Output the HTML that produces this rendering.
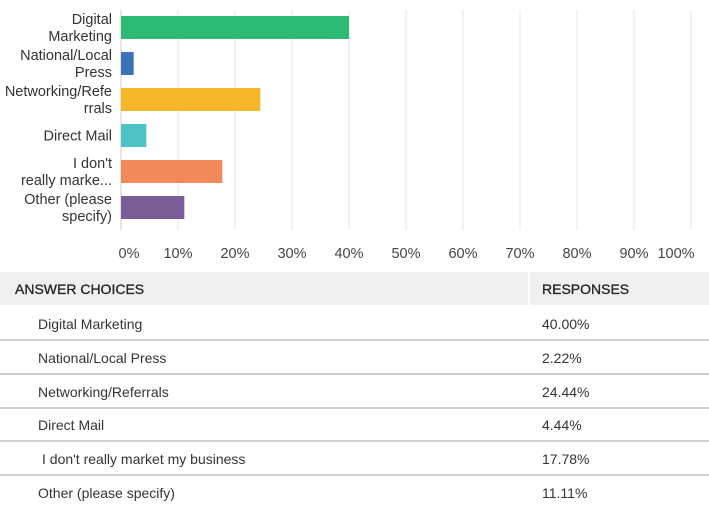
<!DOCTYPE html>
<html><head><meta charset="utf-8"><style>
body{margin:0;width:709px;height:507px;background:#fff;font-family:"Liberation Sans",sans-serif;color:#333;overflow:hidden;position:relative}
.t{position:absolute;font-size:14px}
</style></head><body>
<svg id="chart" width="709" height="270" style="position:absolute;left:0;top:0"></svg>
<div style="position:absolute;left:0;top:272px;width:709px;height:33px;background:#efefef"></div>
<div style="position:absolute;left:528px;top:272px;width:2px;height:33px;background:#fff"></div>
<div class="t" style="left:15px;top:281px;font-size:14px;color:#222;-webkit-text-stroke:0.3px #222">ANSWER CHOICES</div>
<div class="t" style="left:542px;top:281px;font-size:14px;color:#222;-webkit-text-stroke:0.3px #222">RESPONSES</div>
<div id="rows"></div>
<script>
const categories=["Digital Marketing","National/Local Press","Networking/Referrals","Direct Mail","I don't really market my business","Other (please specify)"];
const shortLabels=[["Digital","Marketing"],["National/Local","Press"],["Networking/Refe","rrals"],["Direct Mail"],["I don't ","really marke..."],["Other (please","specify)"]];
const values=[40.00,2.22,24.44,4.44,17.78,11.11];
const colors=["#2dba74","#3b73b9","#f6b82a","#4ec3c6","#f2895a","#7a5c98"];
const ticks=[0,10,20,30,40,50,60,70,80,90,100];
const ns="http://www.w3.org/2000/svg";
const svg=document.getElementById('chart');
const x=v=>121+v*5.7;
const y=i=>16+i*36;
ticks.forEach(t=>{
 const l=document.createElementNS(ns,'line');
 
 
 l.setAttribute('x1',x(t));l.setAttribute('x2',x(t));l.setAttribute('y1',10);l.setAttribute('y2',230);
 l.setAttribute('stroke',t===0?'#ccc':'#e6e6e6');l.setAttribute('stroke-width',1);
 svg.appendChild(l);
 const tx=document.createElementNS(ns,'text');
 
 
 tx.setAttribute('x',t===100?x(t)-15:x(t)+(t===0?8:0));tx.setAttribute('y',258);tx.setAttribute('text-anchor','middle');
 tx.setAttribute('font-size','14.5');tx.setAttribute('fill','#444');
 tx.textContent=t+'%';svg.appendChild(tx);
});
values.forEach((v,i)=>{
 const r=document.createElementNS(ns,'rect');
 
 
 r.setAttribute('x',x(0));r.setAttribute('y',y(i));r.setAttribute('width',x(v)-x(0));r.setAttribute('height',23);
 r.setAttribute('fill',colors[i]);svg.appendChild(r);
 const lines=shortLabels[i];
 lines.forEach((s,k)=>{
  const tx=document.createElementNS(ns,'text');
  
  
  const cy=y(i)+11.5+(k-(lines.length-1)/2)*17+5;
  tx.setAttribute('x',112);tx.setAttribute('y',cy);tx.setAttribute('text-anchor','end');
  tx.setAttribute('font-size','14.5');tx.setAttribute('fill','#333');
  tx.textContent=s;svg.appendChild(tx);
 });
});
const rows=document.getElementById('rows');
categories.forEach((c,i)=>{
 const top=306+i*33.8;
 const a=document.createElement('div');
 
 
 a.className='t';a.style.left=(i===4?42:38)+'px';a.style.top=(top+10)+'px';a.textContent=c;rows.appendChild(a);
 const b=document.createElement('div');
 
 
 b.className='t';b.style.left='542px';b.style.top=(top+10)+'px';b.textContent=values[i].toFixed(2)+'%';rows.appendChild(b);
 if(i<5){
  const ln=document.createElement('div');
  
  
  ln.style.cssText='position:absolute;left:0;width:709px;height:2px;background:#cfcfcf;top:'+(top+33)+'px';
  rows.appendChild(ln);
 }
});
</script>
</body></html>
